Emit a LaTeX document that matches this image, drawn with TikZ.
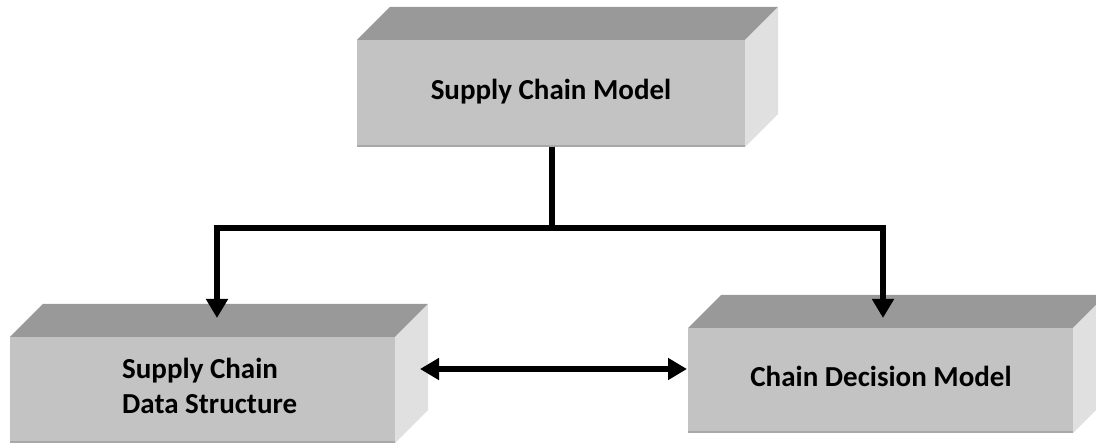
\documentclass[tikz,border=0pt]{standalone}
\usepackage{fontspec}
\setmainfont{Carlito}
\usetikzlibrary{arrows.meta}
\definecolor{faceF}{HTML}{C3C3C3}
\definecolor{faceT}{HTML}{999999}
\definecolor{faceS}{HTML}{E0E0E0}
\definecolor{edgeB}{HTML}{A8A8A8}
\tikzset{
  front/.style={rectangle, fill=faceF, inner sep=0pt, outer sep=0pt},
  lbl/.style={font=\bfseries\fontsize{29}{35}\selectfont, inner sep=0pt},
  conn/.style={line width=6pt, line join=miter, line cap=butt},
  tip/.style={-{Triangle[length=19pt,width=21pt]}},
  dtip/.style={{Triangle[length=19pt,width=21pt]}-{Triangle[length=19pt,width=21pt]}},
}
% extruded box: top and right faces drawn from the corners of a front-face node
\newcommand{\extrude}[2]{%
  \fill[faceT] (#1.north west) -- ++(#2,-#2) -- ([shift={(#2,-#2)}]#1.north east) -- (#1.north east) -- cycle;
  \fill[faceS] (#1.north east) -- ++(#2,-#2) -- ([shift={(#2,-#2)}]#1.south east) -- (#1.south east) -- cycle;
  \draw[edgeB, line width=2pt] ([yshift=1pt]#1.south west) -- ([yshift=1pt]#1.south east);
}
\begin{document}
\begin{tikzpicture}[x=1pt, y=-1pt]
\useasboundingbox (0,0) rectangle (1096,443);

% boxes
\node[front, minimum width=388pt, minimum height=107pt] (scm) at (551,93.5) {};
\extrude{scm}{33}
\node[lbl] (scmt) at (551,92) {Supply Chain Model};

\node[front, minimum width=385pt, minimum height=106pt] (sds) at (202.5,390) {};
\extrude{sds}{33}
\node[lbl, align=left, anchor=west] (sdst) at (122,386) {Supply Chain\\Data Structure};

\node[front, minimum width=385pt, minimum height=105pt] (cdm) at (880.5,380.5) {};
\extrude{cdm}{33}
\node[lbl] (cdmt) at (881,376) {Chain Decision Model};

% connector ends
\coordinate (j) at (552,228);
\coordinate (lt) at (217,318);
\coordinate (rt) at (883,318);
\coordinate (da) at (420,369);
\coordinate (db) at (687,369);

\draw[conn] (scm.south -| j) -- (j);
\draw[conn, tip] (j) -| (lt);
\draw[conn, tip] (j) -| (rt);
\draw[conn, dtip] (da) -- (db);
\end{tikzpicture}
\end{document}
